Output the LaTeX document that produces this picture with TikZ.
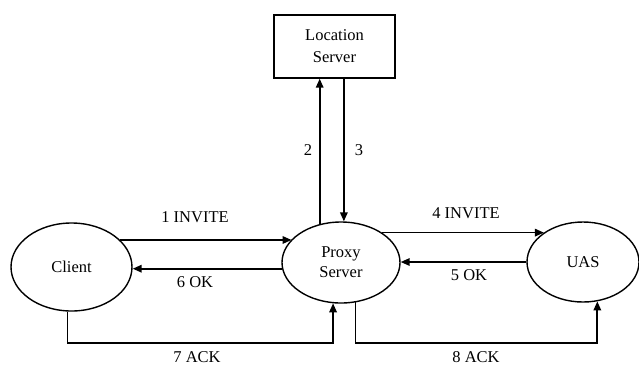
\documentclass[tikz,border=0pt]{standalone}
\usepackage{fontspec}
\setmainfont{Liberation Serif}
\usepackage{tikz}
\usetikzlibrary{shapes,arrows.meta,positioning,calc}

\begin{document}
\begin{tikzpicture}[x=1pt,y=-1pt,
  agent/.style={draw,ellipse,line width=1.4pt,inner sep=0pt,align=center,font=\fontsize{16.5}{20}\selectfont},
  server/.style={draw,rectangle,line width=1.4pt,minimum width=121pt,minimum height=63pt,align=center,font=\fontsize{16.5}{22}\selectfont},
  msg/.style={line width=1.7pt,-{Triangle[length=9pt,width=7.5pt]}},
  lbl/.style={font=\fontsize{16.5}{18}\selectfont,inner sep=0pt}
]
\useasboundingbox (0,0) rectangle (639,365);

\node[server] (loc) at (334.5,46.5) {Location\\Server};
\node[agent,minimum width=121pt,minimum height=88pt] (client) at (71.5,267) {Client};
\node[agent,minimum width=118pt,minimum height=81pt] (proxy) at (341,262.5) {Proxy\\Server};
\node[agent,minimum width=112pt,minimum height=80pt] (uas) at (583,262) {UAS};
\coordinate (base) at (0,343);

% requests and responses
\draw[msg] (client.29.5) -- (proxy.155 |- client.29.5);
\draw[msg] (proxy.119) -- (proxy.119 |- loc.south);
\draw[msg] (loc.south -| proxy.86) -- (proxy.86);
\draw[msg] (proxy.36) -- (uas.143 |- proxy.36);
\draw[msg] (uas.west) -- (proxy.east |- uas.west);
\draw[msg] (proxy.186) -- (client.east |- proxy.186);

% acks
\draw[msg] (client.265) -- (client.265 |- base) -| (proxy.259);
\draw[msg] (proxy.290) -- (proxy.290 |- base) -| (uas.290);

% labels
\node[lbl] (l1) at (195,217) {1 INVITE};
\node[lbl] (l2) at (308,150) {2};
\node[lbl] (l3) at (359,150) {3};
\node[lbl] (l4) at (466,213) {4 INVITE};
\node[lbl] (l5) at (469,275) {5 OK};
\node[lbl] (l6) at (195,282) {6 OK};
\node[lbl] (l7) at (197,357) {7 ACK};
\node[lbl] (l8) at (476,357) {8 ACK};
\end{tikzpicture}
\end{document}
